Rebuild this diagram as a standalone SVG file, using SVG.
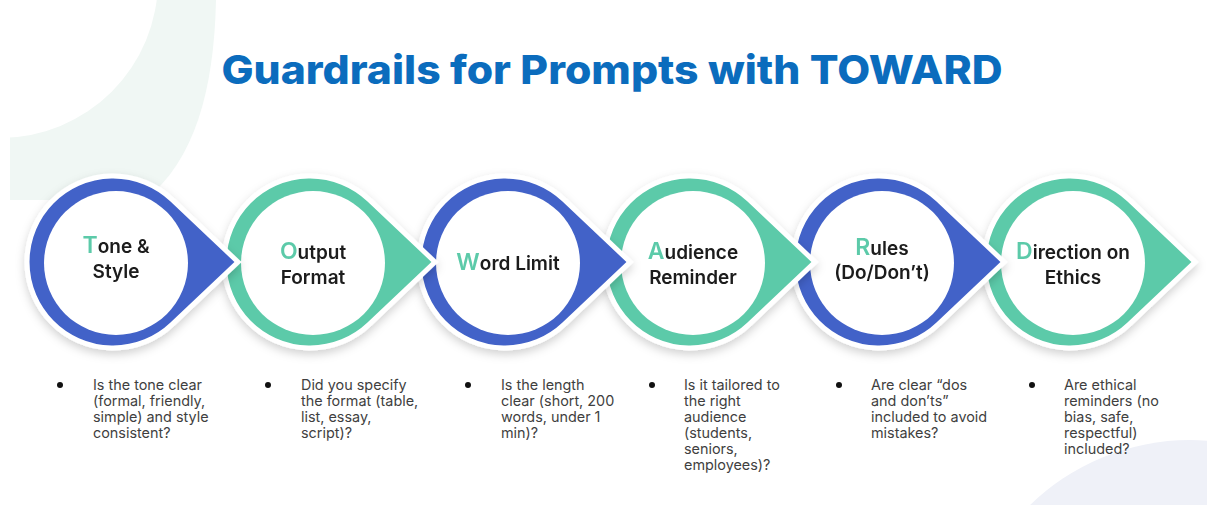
<svg xmlns="http://www.w3.org/2000/svg" xmlns:xlink="http://www.w3.org/1999/xlink" width="1207" height="505" viewBox="0 0 1207 505">
  <style>
    .title { font-family: Inter, "Open Sans", "Liberation Sans", sans-serif; font-weight: 800; font-size: 40px; fill: #0b6cbd; }
    .blue { fill: #4262c8; }
    .green { fill: #5ccaa9; }
    .drop { stroke: #ffffff; stroke-width: 5; stroke-linejoin: miter; }
    .inner { fill: #ffffff; }
    .lbl { font-family: Inter, "Open Sans", "Liberation Sans", sans-serif; font-weight: 600; font-size: 19px; fill: #1a1a1a; text-anchor: middle; }
    .init { fill: #5ccaa9; font-size: 23px; }
    .body { font-family: Inter, "Open Sans", "Liberation Sans", sans-serif; font-size: 14.4px; fill: #3f3f3f; }
    .dot { fill: #111111; }
  </style>
  <defs>
    <path id="dropShape" d="M125,0 L59.2,-62.4 A86,86 0 1 0 59.2,62.4 Z"/>
    <filter id="sh" x="-30%" y="-30%" width="160%" height="170%">
      <feDropShadow dx="0" dy="4" stdDeviation="5" flood-color="#000000" flood-opacity="0.18"/>
    </filter>
  </defs>

  <!-- background decorations -->
  <g id="background">
    <rect x="0" y="0" width="1207" height="505" fill="#ffffff"/>
    <path d="M10,0 L216,0 C214,90 195,160 145,200 L10,200 Z" fill="#f0f7f4"/>
    <circle cx="0" cy="-20" r="158" fill="#ffffff"/>
    <circle cx="1190" cy="669" r="229" fill="#eff1f8"/>
  </g>

  <text id="title" class="title" x="612" y="84" text-anchor="middle" textLength="781" lengthAdjust="spacingAndGlyphs">Guardrails for Prompts with TOWARD</text>

  <g id="connectors"></g>

  <!-- nodes drawn right to left so each tip overlaps the next ring -->
  <g id="node-direction" filter="url(#sh)">
    <use xlink:href="#dropShape" x="1070" y="262" class="drop green"/>
    <circle class="inner" cx="1073" cy="263" r="72"/>
    <text class="lbl" x="1073" y="259"><tspan class="init">D</tspan>irection on</text>
    <text class="lbl" x="1073" y="284">Ethics</text>
  </g>
  <g id="node-rules" filter="url(#sh)">
    <use xlink:href="#dropShape" x="879" y="262" class="drop blue"/>
    <circle class="inner" cx="882" cy="263" r="72"/>
    <text class="lbl" x="882" y="255"><tspan class="init">R</tspan>ules</text>
    <text class="lbl" x="882" y="279">(Do/Don’t)</text>
  </g>
  <g id="node-audience" filter="url(#sh)">
    <use xlink:href="#dropShape" x="690" y="262" class="drop green"/>
    <circle class="inner" cx="693" cy="263" r="72"/>
    <text class="lbl" x="693" y="259"><tspan class="init">A</tspan>udience</text>
    <text class="lbl" x="693" y="284">Reminder</text>
  </g>
  <g id="node-word" filter="url(#sh)">
    <use xlink:href="#dropShape" x="505" y="262" class="drop blue"/>
    <circle class="inner" cx="508" cy="263" r="72"/>
    <text class="lbl" x="508" y="270"><tspan class="init">W</tspan>ord Limit</text>
  </g>
  <g id="node-output" filter="url(#sh)">
    <use xlink:href="#dropShape" x="310" y="262" class="drop green"/>
    <circle class="inner" cx="313" cy="263" r="72"/>
    <text class="lbl" x="313" y="259"><tspan class="init">O</tspan>utput</text>
    <text class="lbl" x="313" y="284">Format</text>
  </g>
  <g id="node-tone" filter="url(#sh)">
    <use xlink:href="#dropShape" x="113" y="262" class="drop blue"/>
    <circle class="inner" cx="116" cy="263" r="72"/>
    <text class="lbl" x="116" y="253"><tspan class="init">T</tspan>one &amp;</text>
    <text class="lbl" x="116" y="278">Style</text>
  </g>

  <!-- descriptions -->
  <g id="desc-tone">
    <circle class="dot" cx="60" cy="385" r="3"/>
    <text class="body" x="93" y="390">Is the tone clear</text>
    <text class="body" x="93" y="406">(formal, friendly,</text>
    <text class="body" x="93" y="422">simple) and style</text>
    <text class="body" x="93" y="438">consistent?</text>
  </g>
  <g id="desc-output">
    <circle class="dot" cx="268" cy="385" r="3"/>
    <text class="body" x="301" y="390">Did you specify</text>
    <text class="body" x="301" y="406">the format (table,</text>
    <text class="body" x="301" y="422">list, essay,</text>
    <text class="body" x="301" y="438">script)?</text>
  </g>
  <g id="desc-word">
    <circle class="dot" cx="468" cy="385" r="3"/>
    <text class="body" x="501" y="390">Is the length</text>
    <text class="body" x="501" y="406">clear (short, 200</text>
    <text class="body" x="501" y="422">words, under 1</text>
    <text class="body" x="501" y="438">min)?</text>
  </g>
  <g id="desc-audience">
    <circle class="dot" cx="652" cy="385" r="3"/>
    <text class="body" x="684" y="390">Is it tailored to</text>
    <text class="body" x="684" y="406">the right</text>
    <text class="body" x="684" y="422">audience</text>
    <text class="body" x="684" y="438">(students,</text>
    <text class="body" x="684" y="454">seniors,</text>
    <text class="body" x="684" y="470">employees)?</text>
  </g>
  <g id="desc-rules">
    <circle class="dot" cx="839" cy="385" r="3"/>
    <text class="body" x="871" y="390">Are clear “dos</text>
    <text class="body" x="871" y="406">and don’ts”</text>
    <text class="body" x="871" y="422">included to avoid</text>
    <text class="body" x="871" y="438">mistakes?</text>
  </g>
  <g id="desc-direction">
    <circle class="dot" cx="1032" cy="385" r="3"/>
    <text class="body" x="1064" y="390">Are ethical</text>
    <text class="body" x="1064" y="406">reminders (no</text>
    <text class="body" x="1064" y="422">bias, safe,</text>
    <text class="body" x="1064" y="438">respectful)</text>
    <text class="body" x="1064" y="454">included?</text>
  </g>
</svg>
